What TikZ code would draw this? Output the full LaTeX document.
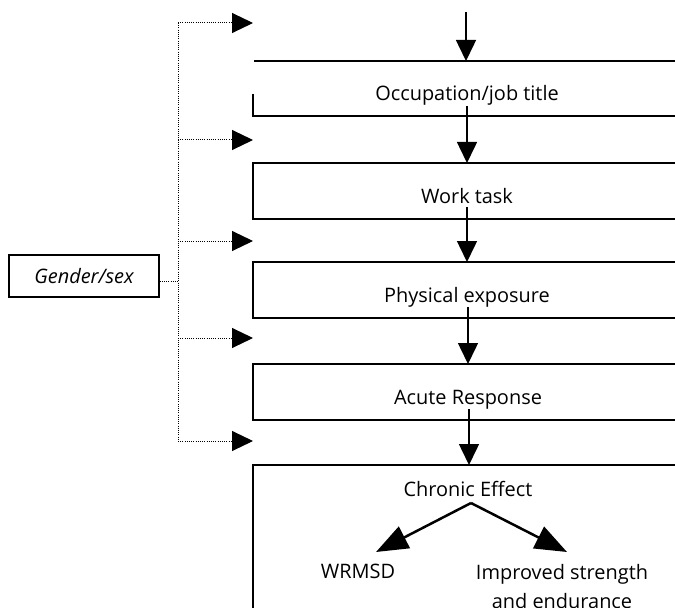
\documentclass[tikz,border=0pt]{standalone}
\usepackage{fontspec}
\setmainfont{Open Sans}
\usetikzlibrary{arrows.meta}
\begin{document}
\begin{tikzpicture}[x=1bp,y=-1bp,
  boxline/.style={line width=1.5bp},
  flow/.style={line width=1.5bp,-{Triangle[width=20bp,length=21bp]}},
  dotflow/.style={line width=1bp,dash pattern=on 1bp off 1.2bp,-{Triangle[width=20bp,length=21bp]}},
  dotline/.style={line width=1bp,dash pattern=on 1bp off 1.2bp},
  branch/.style={line width=2.5bp,-{Triangle[width=24bp,length=32bp]}},
  lbl/.style={font=\fontsize{20}{29}\selectfont,inner sep=0pt,anchor=base}]
\clip (0,0) rectangle (675,608);
\fill[white] (0,0) rectangle (675,608);
% boxes
\draw[boxline] (254,61) -- (690,61);
\draw[boxline] (253,94) -- (253,116) -- (690,116);
\draw[boxline] (690,163) -- (253,163) -- (253,219) -- (690,219);
\draw[boxline] (690,262) -- (253,262) -- (253,318) -- (690,318);
\draw[boxline] (690,364) -- (253,364) -- (253,420) -- (690,420);
\draw[boxline] (690,465) -- (253,465) -- (253,620);
% texts
\node[lbl] (occ) at (467,101) {Occupation/job title};
\node[lbl] (work) at (467,203) {Work task};
\node[lbl] (phys) at (467,302) {Physical exposure};
\node[lbl] (acute) at (468,404) {Acute Response};
\node[lbl] (chron) at (468,496) {Chronic Effect};
\node[lbl] (wrm) at (358,578) {WRMSD};
\node[lbl,align=center] (imp) at (562,608) {Improved strength\\and endurance};
\node[draw,line width=1.2bp,minimum width=150bp,minimum height=42bp,inner sep=0pt,
  font=\fontsize{20}{24}\selectfont\itshape] (gen) at (84,276) {Gender/sex};
% flow coordinates
\coordinate (a0) at (466,12);
\coordinate (a0e) at (466,61);
\coordinate (a1) at (467,106);
\coordinate (a1e) at (467,163);
\coordinate (a2) at (467,207);
\coordinate (a2e) at (467,262);
\coordinate (a3) at (468,307);
\coordinate (a3e) at (468,364);
\coordinate (a4) at (469,409);
\coordinate (a4e) at (469,465);
\draw[flow] (a0) -- (a0e);
\draw[flow] (a1) -- (a1e);
\draw[flow] (a2) -- (a2e);
\draw[flow] (a3) -- (a3e);
\draw[flow] (a4) -- (a4e);
% branches
\coordinate (bs) at (471,503);
\coordinate (bl) at (376,552);
\coordinate (br) at (567,552);
\draw[branch] (bs) -- (bl);
\draw[branch] (bs) -- (br);
% dotted
\coordinate (d0) at (178,23);
\coordinate (d1) at (178,140);
\coordinate (d2) at (178,241);
\coordinate (d3) at (178,338);
\coordinate (d4) at (178,441);
\coordinate (dg) at (178,281);
\coordinate (t0) at (253,23);
\coordinate (t1) at (253,140);
\coordinate (t2) at (253,241);
\coordinate (t3) at (253,338);
\coordinate (t4) at (253,441);
\draw[dotline] (d0) -- (d4);
\draw[dotline] (gen.east |- dg) -- (dg);
\draw[dotflow] (d0) -- (t0);
\draw[dotflow] (d1) -- (t1);
\draw[dotflow] (d2) -- (t2);
\draw[dotflow] (d3) -- (t3);
\draw[dotflow] (d4) -- (t4);
\end{tikzpicture}
\end{document}
